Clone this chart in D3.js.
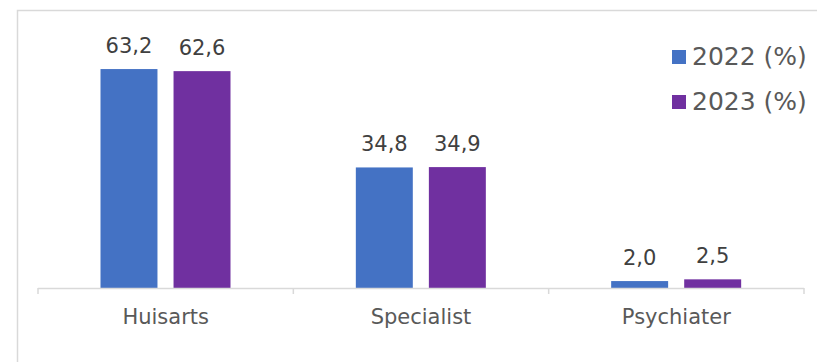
<!DOCTYPE html>
<html>
<head>
<meta charset="utf-8">
<script src="https://cdn.jsdelivr.net/npm/d3@7"></script>
<style>
  html, body { margin: 0; padding: 0; background: #fff; }
  svg { display: block; font-family: Verdana, "DejaVu Sans", sans-serif; }
</style>
</head>
<body>
<svg id="chart" width="817" height="362"></svg>
<script>
// Share of referrals per care provider, two years
const categories = ["Huisarts", "Specialist", "Psychiater"];
const seriesNames = ["2022 (%)", "2023 (%)"];
const values2022 = [63.2, 34.8, 2.0];
const values2023 = [62.6, 34.9, 2.5];
const seriesColors = ["#4472C4", "#7030A0"];

const series = [values2022, values2023];
const fmt = v => v.toFixed(1).replace(".", ",");

const svg = d3.select("#chart");

// outer chart frame
svg.append("rect")
  .attr("x", 17.5).attr("y", 10.5)
  .attr("width", 1000).attr("height", 600)
  .attr("fill", "#fff")
  .attr("stroke", "#d9d9d9").attr("stroke-width", 1.5);

const baseY = 288;
const x0 = d3.scaleBand().domain(categories).range([38, 804]).padding(0);
const x1 = d3.scaleBand().domain(d3.range(seriesNames.length))
  .range([62.5, 192.5]).paddingInner(0.22).paddingOuter(0);
const y = d3.scaleLinear().domain([0, 70]).range([baseY, 45.5]);

// bars
const groups = svg.append("g").selectAll("g")
  .data(categories)
  .join("g")
  .attr("transform", d => `translate(${x0(d)},0)`);

groups.each(function (cat, ci) {
  const g = d3.select(this);
  series.forEach((vals, si) => {
    const v = vals[ci];
    g.append("rect")
      .attr("x", x1(si))
      .attr("y", y(v))
      .attr("width", x1.bandwidth())
      .attr("height", baseY - y(v))
      .attr("fill", seriesColors[si]);
    g.append("text")
      .attr("x", x1(si) + x1.bandwidth() / 2)
      .attr("y", y(v) - 16)
      .attr("text-anchor", "middle")
      .attr("font-size", 21)
      .attr("fill", "#404040")
      .text(fmt(v));
  });
});

// category axis
const xAxis = d3.axisBottom(x0).tickSize(0).tickPadding(0);
const axisG = svg.append("g").attr("transform", `translate(0,${baseY})`).call(xAxis);
axisG.select(".domain").remove();
axisG.selectAll("text")
  .attr("y", 36)
  .attr("dy", 0)
  .attr("font-size", 21)
  .attr("font-family", "Verdana, 'DejaVu Sans', sans-serif")
  .attr("fill", "#595959");

const bounds = [38, ...categories.map(c => x0(c) + x0.bandwidth())];
svg.append("line")
  .attr("x1", 38).attr("x2", 804)
  .attr("y1", baseY + 0.5).attr("y2", baseY + 0.5)
  .attr("stroke", "#d9d9d9").attr("stroke-width", 1.5);
svg.selectAll(".tickmark")
  .data(bounds)
  .join("line")
  .attr("class", "tickmark")
  .attr("x1", d => d).attr("x2", d => d)
  .attr("y1", baseY).attr("y2", baseY + 6)
  .attr("stroke", "#d9d9d9").attr("stroke-width", 1.5);

// legend
const legend = svg.append("g").selectAll("g")
  .data(seriesNames)
  .join("g")
  .attr("transform", (d, i) => `translate(672,${50 + i * 45})`);
legend.append("rect")
  .attr("width", 14).attr("height", 14)
  .attr("fill", (d, i) => seriesColors[i]);
legend.append("text")
  .attr("x", 20).attr("y", 15)
  .attr("font-size", 25)
  .attr("fill", "#595959")
  .text(d => d);
</script>
</body>
</html>
